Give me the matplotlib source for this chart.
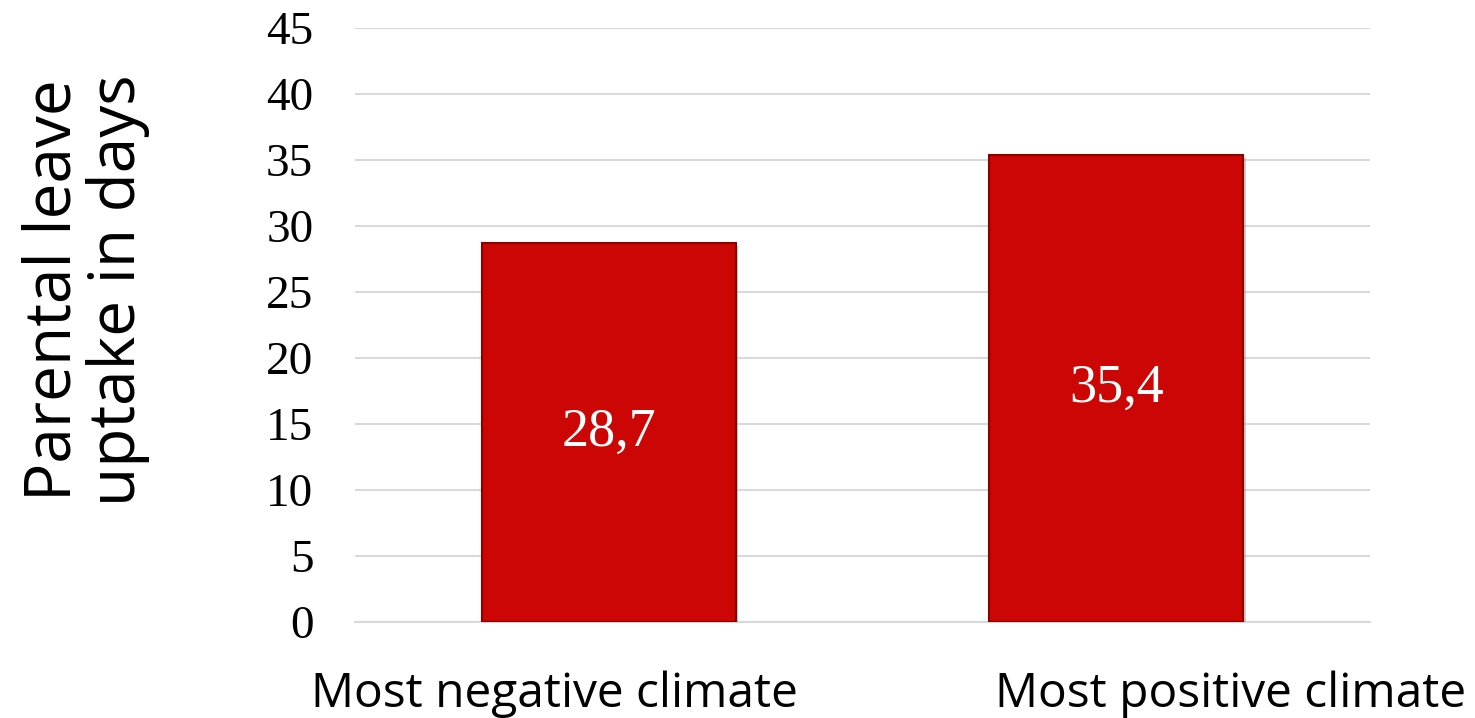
import matplotlib
matplotlib.use("Agg")
import matplotlib.pyplot as plt
import matplotlib.patheffects as pe

categories = ["Most negative climate", "Most positive climate"]
uptake_days = [28.7, 35.4]
value_labels = ["28,7", "35,4"]
y_ticks = [0, 5, 10, 15, 20, 25, 30, 35, 40, 45]

fig = plt.figure(figsize=(14.75, 7.18), dpi=100)
ax = fig.add_axes([0.2407, 0.1337, 0.6881, 0.8273])

x = range(len(categories))
bars = ax.bar(x, uptake_days, width=0.5, color="#cc0605", edgecolor="#8e0000",
              linewidth=1.5, zorder=3)
for b in bars:
    b.set_path_effects([pe.SimplePatchShadow(offset=(2, -2), shadow_rgbFace="#999999", alpha=0.5),
                        pe.Normal()])

for xi, v, lab in zip(x, uptake_days, value_labels):
    ax.text(xi, v / 2, lab, ha="center", va="center", color="white",
            fontsize=39, family="Liberation Serif", zorder=4)

ax.set_xlim(-0.5, 1.5)
ax.set_ylim(0, 45)
ax.set_yticks(y_ticks)
ax.set_yticklabels([str(t) for t in y_ticks], family="Liberation Serif", fontsize=34)
ax.set_xticks(list(x))
ax.set_xticklabels([])
ax.tick_params(axis="y", length=0, pad=30)
ax.tick_params(axis="x", length=0)

# category names sit in their own text boxes below the axis
for xc, name in zip([0.3756, 0.834], categories):
    fig.text(xc, 0.016, name, ha="center", va="baseline", family="Open Sans", fontsize=34.5)

ax.grid(axis="y", color="#d9d9d9", linewidth=1.5, zorder=0)
ax.set_axisbelow(True)
for side in ["top", "right", "left"]:
    ax.spines[side].set_visible(False)
ax.spines["bottom"].set_color("#d9d9d9")
ax.spines["bottom"].set_linewidth(1.5)

fig.text(0.058, 0.596, "Parental leave\nuptake in days", rotation=90, ha="center",
         va="center", family="Open Sans", fontsize=46, linespacing=1.0)

fig.savefig("out.png", dpi=100)
